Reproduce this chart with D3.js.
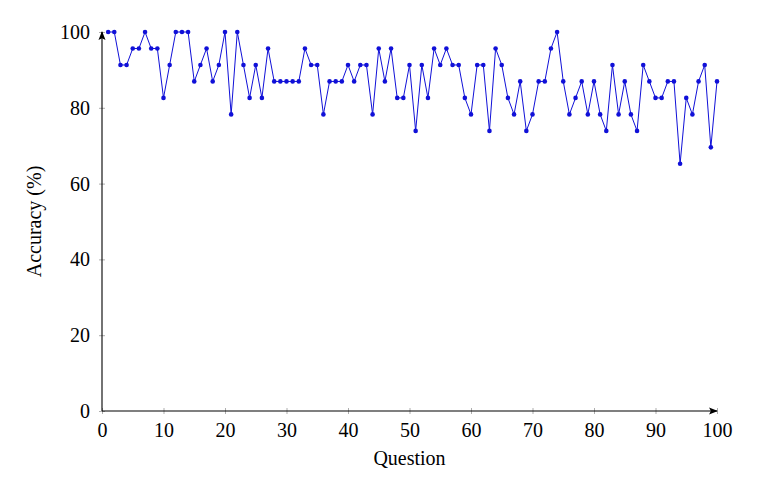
<!DOCTYPE html>
<html>
<head>
<meta charset="utf-8">
<script src="https://cdn.jsdelivr.net/npm/d3@7"></script>
<style>
  body { margin: 0; background: #fff; }
</style>
</head>
<body>
<div id="chart-container"></div>
<script>
// accuracy (%) per question, 1..100
const questions = d3.range(1, 101);
const accuracy = [
  100, 100, 91.3, 91.3, 95.65, 95.65, 100, 95.65, 95.65, 82.61,
  91.3, 100, 100, 100, 86.96, 91.3, 95.65, 86.96, 91.3, 100,
  78.26, 100, 91.3, 82.61, 91.3, 82.61, 95.65, 86.96, 86.96, 86.96,
  86.96, 86.96, 95.65, 91.3, 91.3, 78.26, 86.96, 86.96, 86.96, 91.3,
  86.96, 91.3, 91.3, 78.26, 95.65, 86.96, 95.65, 82.61, 82.61, 91.3,
  73.91, 91.3, 82.61, 95.65, 91.3, 95.65, 91.3, 91.3, 82.61, 78.26,
  91.3, 91.3, 73.91, 95.65, 91.3, 82.61, 78.26, 86.96, 73.91, 78.26,
  86.96, 86.96, 95.65, 100, 86.96, 78.26, 82.61, 86.96, 78.26, 86.96,
  78.26, 73.91, 91.3, 78.26, 86.96, 78.26, 73.91, 91.3, 86.96, 82.61,
  82.61, 86.96, 86.96, 65.22, 82.61, 78.26, 86.96, 91.3, 69.57, 86.96
];
const xTicks = [0, 10, 20, 30, 40, 50, 60, 70, 80, 90, 100];
const yTicks = [0, 20, 40, 60, 80, 100];

const FONT = '"Liberation Serif", "DejaVu Serif", "Times New Roman", serif';

const drawChart = (w, h) => {
  const left = 102, right = 717, top = 32, bottom = 411;

  const svg = d3.select('#chart-container')
    .append('svg')
    .attr('width', w)
    .attr('height', h);

  const xScale = d3.scaleLinear().domain([0, 100]).range([left, right]);
  const yScale = d3.scaleLinear().domain([0, 100]).range([bottom, top]);

  // ticks: small grey marks crossing the axis
  const xAxis = d3.axisBottom(xScale).tickValues(xTicks).tickSize(0).tickPadding(12);
  const gx = svg.append('g')
    .attr('transform', `translate(0, ${bottom})`)
    .call(xAxis);
  gx.select('.domain').remove();
  gx.selectAll('text')
    .style('font-family', FONT)
    .style('font-size', '20px')
    .attr('fill', '#000');
  gx.selectAll('.tick').append('line')
    .attr('y1', -3).attr('y2', 3)
    .attr('stroke', '#777').attr('stroke-width', 0.6);

  const yAxis = d3.axisLeft(yScale).tickValues(yTicks).tickSize(0).tickPadding(12);
  const gy = svg.append('g')
    .attr('transform', `translate(${left}, 0)`)
    .call(yAxis);
  gy.select('.domain').remove();
  gy.selectAll('text')
    .style('font-family', FONT)
    .style('font-size', '20px')
    .attr('fill', '#000');
  gy.selectAll('.tick').append('line')
    .attr('x1', -3).attr('x2', 3)
    .attr('stroke', '#777').attr('stroke-width', 0.6);

  // axis lines with arrow heads
  const defs = svg.append('defs');
  defs.append('marker')
    .attr('id', 'arrow')
    .attr('viewBox', '0 0 10 10')
    .attr('refX', 9).attr('refY', 5)
    .attr('markerWidth', 8).attr('markerHeight', 8)
    .attr('orient', 'auto')
    .append('path')
    .attr('d', 'M0,1 L10,5 L0,9 L2,5 Z')
    .attr('fill', '#000');

  svg.append('line')
    .attr('x1', left).attr('y1', bottom).attr('x2', right).attr('y2', bottom)
    .attr('stroke', '#000').attr('stroke-width', 1.1)
    .attr('marker-end', 'url(#arrow)');
  svg.append('line')
    .attr('x1', left).attr('y1', bottom).attr('x2', left).attr('y2', top)
    .attr('stroke', '#000').attr('stroke-width', 1.1)
    .attr('marker-end', 'url(#arrow)');

  // series
  const data = questions.map((q, i) => [q, accuracy[i]]);
  const line = d3.line().x(d => xScale(d[0])).y(d => yScale(d[1]));

  svg.append('path')
    .datum(data)
    .attr('d', line)
    .attr('fill', 'none')
    .attr('stroke', '#1010d8')
    .attr('stroke-width', 1);

  svg.selectAll('circle')
    .data(data)
    .enter()
    .append('circle')
    .attr('cx', d => xScale(d[0]))
    .attr('cy', d => yScale(d[1]))
    .attr('r', 2.3)
    .attr('fill', '#1010d8');

  // axis titles
  svg.append('text')
    .attr('x', (left + right) / 2)
    .attr('y', 465)
    .attr('text-anchor', 'middle')
    .style('font-family', FONT)
    .style('font-size', '20px')
    .attr('fill', '#000')
    .text('Question');

  svg.append('text')
    .attr('transform', `translate(41, ${(top + bottom) / 2}) rotate(-90)`)
    .attr('text-anchor', 'middle')
    .style('font-family', FONT)
    .style('font-size', '20px')
    .attr('fill', '#000')
    .text('Accuracy (%)');
}

drawChart(758, 493);
</script>
</body>
</html>
